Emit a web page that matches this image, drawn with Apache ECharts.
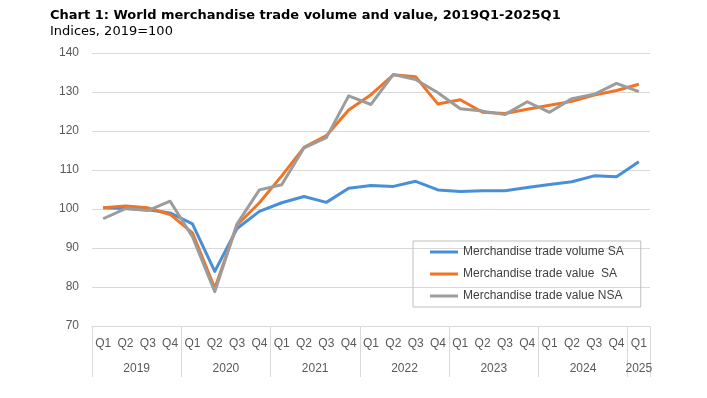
<!DOCTYPE html>
<html>
<head>
<meta charset="utf-8">
<script src="https://cdn.jsdelivr.net/npm/echarts@6/dist/echarts.min.js"></script>
<style>
  html, body { margin: 0; padding: 0; background: #fff; }
  #chart { width: 707px; height: 398px; }
</style>
</head>
<body>
<div id="chart"></div>
<script>
// categories
const quarters = ['Q1','Q2','Q3','Q4','Q1','Q2','Q3','Q4','Q1','Q2','Q3','Q4',
  'Q1','Q2','Q3','Q4','Q1','Q2','Q3','Q4','Q1','Q2','Q3','Q4','Q1'];
const years = ['2019','2020','2021','2022','2023','2024','2025'];
const quartersPerYear = [4, 4, 4, 4, 4, 4, 1];

// series values (indices, 2019=100)
const volumeSA = [100.3, 100.1, 99.8, 99.0, 96.2, 84.0, 95.0, 99.4, 101.6, 103.2, 101.7, 105.3,
  106.0, 105.8, 107.1, 104.9, 104.5, 104.7, 104.7, 105.5, 106.3, 107.0, 108.5, 108.3, 112.1];
const valueSA = [100.3, 100.8, 100.3, 98.6, 93.9, 79.7, 95.9, 101.6, 108.5, 115.8, 118.8, 125.4,
  129.3, 134.4, 133.9, 126.9, 128.0, 124.8, 124.5, 125.6, 126.6, 127.6, 129.2, 130.4, 132.0];
const valueNSA = [97.5, 100.1, 99.6, 102.0, 92.9, 78.8, 96.2, 104.9, 106.2, 115.7, 118.3, 129.0,
  126.8, 134.5, 133.2, 129.8, 125.7, 125.1, 124.2, 127.5, 124.8, 128.3, 129.4, 132.2, 130.1];

const seriesNames = ['Merchandise trade volume SA', 'Merchandise trade value  SA', 'Merchandise trade value NSA'];
const colors = ['#4a8fd6', '#f07424', '#9c9c9c'];

function creatChart(){
  const chart = echarts.init(document.getElementById('chart'));
  // year label sits in the middle of its quarters
  const yearAt = {};
  let start = 0;
  years.forEach((y, i) => {
    yearAt[String(start + quartersPerYear[i] / 2)] = y;
    start += quartersPerYear[i];
  });
  const axisFont = 'Liberation Sans';
  const option = {
    animation: false,
    title: {
      text: 'Chart 1: World merchandise trade volume and value, 2019Q1-2025Q1',
      subtext: 'Indices, 2019=100',
      left: 50,
      top: 8,
      padding: 0,
      itemGap: 1,
      textStyle: { fontFamily: 'DejaVu Sans', fontSize: 13, fontWeight: 'bold', color: '#000', lineHeight: 15 },
      subtextStyle: { fontFamily: 'DejaVu Sans', fontSize: 13, color: '#000', lineHeight: 15 }
    },
    legend: {
      orient: 'vertical',
      left: 413,
      top: 241,
      padding: [4, 17, 4, 17],
      itemGap: 8,
      itemWidth: 28,
      itemHeight: 3,
      icon: 'rect',
      borderColor: '#bfbfbf',
      borderWidth: 1,
      textStyle: { fontFamily: axisFont, fontSize: 12, color: '#404040', lineHeight: 14 },
      data: seriesNames
    },
    grid: { left: 92, right: 57, top: 53, bottom: 72 },
    xAxis: [
      {
        type: 'category',
        data: quarters,
        boundaryGap: true,
        axisLine: { lineStyle: { color: '#d9d9d9', width: 1 } },
        axisTick: {
          show: true,
          interval: (i) => i % 4 === 0,
          length: 51,
          lineStyle: { color: '#d9d9d9', width: 1 }
        },
        axisLabel: { interval: 0, margin: 12, fontFamily: axisFont, fontSize: 12, color: '#595959' }
      },
      {
        type: 'value',
        position: 'bottom',
        min: 0,
        max: 25,
        interval: 0.5,
        axisLine: { show: false },
        axisTick: { show: false },
        splitLine: { show: false },
        axisLabel: {
          margin: 37,
          fontFamily: axisFont, fontSize: 12, color: '#595959',
          showMinLabel: true, showMaxLabel: true,
          formatter: (v) => yearAt[String(v)] || ''
        }
      }
    ],
    yAxis: {
      type: 'value',
      min: 70,
      max: 140,
      interval: 10,
      axisLine: { show: false },
      axisTick: { show: false },
      splitLine: { lineStyle: { color: '#d9d9d9', width: 1 } },
      axisLabel: { margin: 13, fontFamily: axisFont, fontSize: 12, color: '#595959' }
    },
    series: [volumeSA, valueSA, valueNSA].map((d, i) => ({
      name: seriesNames[i],
      type: 'line',
      data: d,
      symbol: 'none',
      color: colors[i],
      lineStyle: { width: 3, color: colors[i], join: 'round' }
    }))
  };
  chart.setOption(option);
}
window.onload = creatChart;
</script>
</body>
</html>
